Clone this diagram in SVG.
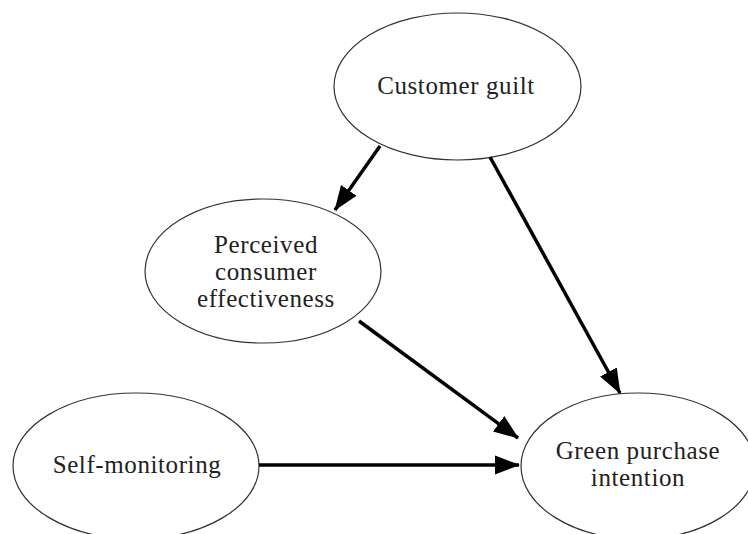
<svg xmlns="http://www.w3.org/2000/svg" width="748" height="534" viewBox="0 0 748 534">
<style>
.node ellipse{fill:#fff;stroke:#333;stroke-width:1.2}
.node text{font-family:"Liberation Serif","Times New Roman",serif;font-size:25px;letter-spacing:0.6px;fill:#222;text-anchor:middle}
.edge{stroke:#000;stroke-width:3.5;fill:none;marker-end:url(#ah)}
</style>
<defs>
<marker id="ah" markerUnits="userSpaceOnUse" markerWidth="26" markerHeight="22" viewBox="0 0 26 22" refX="24" refY="11" orient="auto">
<path d="M0,1.5 L25,11 L0,20.5 z" fill="#000"/>
</marker>
</defs>
<rect width="748" height="534" fill="#fff"/>
<g id="customer-guilt" class="node">
<ellipse cx="457.5" cy="86.5" rx="123.5" ry="73.5"/>
<text x="456" y="94">Customer guilt</text>
</g>
<g id="perceived-consumer-effectiveness" class="node">
<ellipse cx="263" cy="271" rx="118" ry="72"/>
<text x="266" y="253">Perceived</text>
<text x="266" y="280">consumer</text>
<text x="266" y="307">effectiveness</text>
</g>
<g id="self-monitoring" class="node">
<ellipse cx="136" cy="466" rx="123" ry="73"/>
<text x="137" y="473">Self-monitoring</text>
</g>
<g id="green-purchase-intention" class="node">
<ellipse cx="638" cy="466" rx="117" ry="73"/>
<text x="638" y="459">Green purchase</text>
<text x="638" y="486">intention</text>
</g>
<g id="connectors">
<line class="edge" x1="380" y1="146" x2="335" y2="210"/>
<line class="edge" x1="490" y1="157" x2="620" y2="393"/>
<line class="edge" x1="359" y1="321" x2="518" y2="438"/>
<line class="edge" x1="259" y1="465" x2="519" y2="465"/>
</g>
</svg>
